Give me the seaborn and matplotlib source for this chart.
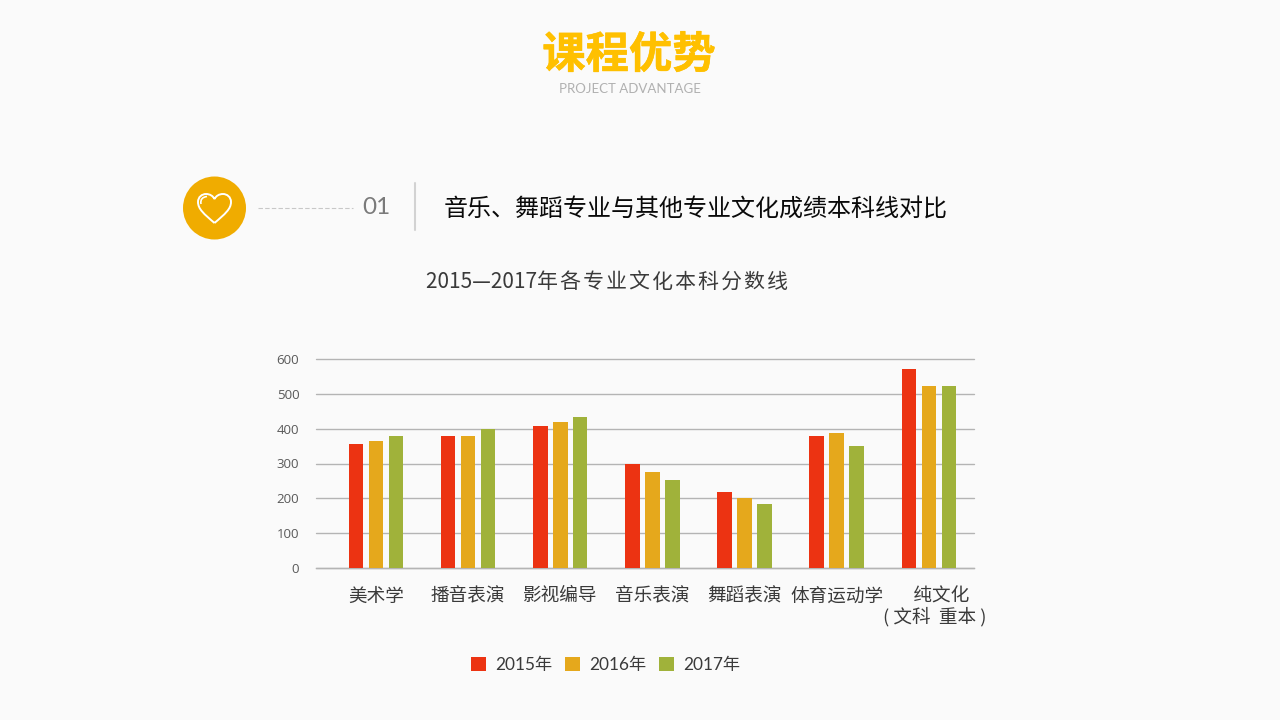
import matplotlib
matplotlib.use('Agg')
import matplotlib.pyplot as plt
import matplotlib.patheffects as pe
from matplotlib.transforms import ScaledTranslation
import seaborn as sns
import pandas as pd
from matplotlib.path import Path
from matplotlib.patches import Circle, PathPatch

# 数据
categories = ['美术学', '播音表演', '影视编导', '音乐表演', '舞蹈表演', '体育运动学', '   纯文化\n( 文科  重本 )']
scores_2015 = [357, 379, 408, 300, 218, 379, 570]
scores_2016 = [365, 379, 418, 275, 200, 388, 523]
scores_2017 = [379, 400, 433, 252, 183, 351, 523]
years = ['2015年', '2016年', '2017年']
colors = ['#EC3312', '#E5A81C', '#A0B23A']
y_ticks = [0, 100, 200, 300, 400, 500, 600]

BG = '#FAFAFA'
CJK = ['Noto Sans CJK SC', 'DejaVu Sans']
LATIN_CJK = ['Lato', 'Noto Sans CJK SC']

sns.set_theme(style='white')
plt.rcParams['font.family'] = CJK

data = pd.DataFrame({'专业': categories * 3,
                     '年份': [y for y in years for _ in categories],
                     '分数': scores_2015 + scores_2016 + scores_2017})

fig = plt.figure(figsize=(12.8, 7.2), dpi=100, facecolor=BG)

# 图表区域 (316..974, 359..568 像素)
ax = fig.add_axes([316 / 1280, 1 - 568 / 720, 658 / 1280, 209 / 720], facecolor='none')
sns.barplot(data=data, x='专业', y='分数', hue='年份', palette=colors,
            width=0.65, gap=0.27, saturation=1, linewidth=0, legend=True, ax=ax, zorder=3)
ax.set_xlim(-0.65, 6.49)
ax.set_ylim(0, 600)
ax.set_yticks(y_ticks)
ax.set_xlabel('')
ax.set_ylabel('')
ax.yaxis.grid(True, color='#B4B4B4', lw=1.0, zorder=0)
for line in ax.get_ygridlines():
    line.set_clip_on(False)
ax.set_axisbelow(True)
sns.despine(ax=ax, left=True, top=True, right=True)
ax.spines['bottom'].set_color('#B4B4B4')
ax.spines['bottom'].set_linewidth(1.0)
ax.tick_params(axis='y', length=0, pad=12, labelsize=9.5, labelcolor='#595959')
for t in ax.get_yticklabels():
    t.set_family('Open Sans')
ax.tick_params(axis='x', length=0, pad=14, labelsize=13.4, labelcolor='#3A3A3A')
for t in ax.get_xticklabels():
    t.set_linespacing(1.08)
    t.set_fontweight('light')
# 最后一个标签略偏右
last = ax.get_xticklabels()[-1]
last.set_transform(last.get_transform() + ScaledTranslation(6 / 100, 0, fig.dpi_scale_trans))

leg = ax.legend(loc='center', bbox_to_anchor=(605.5 / 1280, 1 - 665 / 720),
                bbox_transform=fig.transFigure, ncol=3, frameon=False,
                prop={'family': LATIN_CJK, 'size': 12.4}, labelcolor='#3A3A3A',
                handlelength=0.88, handleheight=0.88,
                handletextpad=0.5, columnspacing=0.75, borderpad=0)

# 页面装饰,像素坐标
page = fig.add_axes([0, 0, 1, 1], facecolor='none', zorder=-1)
page.set_xlim(0, 1280)
page.set_ylim(720, 0)
page.axis('off')

title = page.text(629, 55, '课程优势', color='#FFC000', fontsize=31.2, fontweight='bold', ha='center', va='center')
title.set_path_effects([pe.withStroke(linewidth=0.4, foreground='#FFC000')])
page.text(629.5, 89, 'PROJECT ADVANTAGE', color='#B0B0B0', fontsize=9.5, ha='center', va='center', family='Lato')

page.add_patch(Circle((214.5, 208), 31.5, color='#F0AC00', lw=0))
heart = Path([(214.5, 223), (204, 214), (198, 209), (198, 202), (198, 197), (202, 194), (206, 194),
              (210, 194), (213, 196), (214.5, 199), (216, 196), (219, 194), (223, 194),
              (227, 194), (231, 197), (231, 202), (231, 209), (225, 214), (214.5, 223)],
             [Path.MOVETO] + [Path.CURVE4] * 18)
page.add_patch(PathPatch(heart, fc='none', ec='white', lw=1.4))
shine = Path([(201, 204), (200, 199), (203, 197), (207, 196.5)], [Path.MOVETO] + [Path.CURVE4] * 3)
page.add_patch(PathPatch(shine, fc='none', ec='white', lw=1.2))

page.plot([258, 353], [208, 208], color='#C8C8C8', lw=0.8, ls=(0, (4, 2)))
page.text(376, 208, '01', color='#7A7A7A', fontsize=17.5, ha='center', va='center', family='Lato')
page.plot([415, 415], [183, 230], color='#D2D2D2', lw=1.5)
page.text(695.5, 210, '音乐、舞蹈专业与其他专业文化成绩本科线对比', color='#0A0A0A', fontsize=17.3, ha='center', va='center')
# 汉字之间加细空格,拉开字距
chart_title = '2015—2017' + '\u200a'.join('年各专业文化本科分数线')
page.text(606.5, 283, chart_title, color='#3A3A3A', fontsize=15, ha='center', va='center', fontweight='light')

fig.savefig('out.png', dpi=100, facecolor=BG)
